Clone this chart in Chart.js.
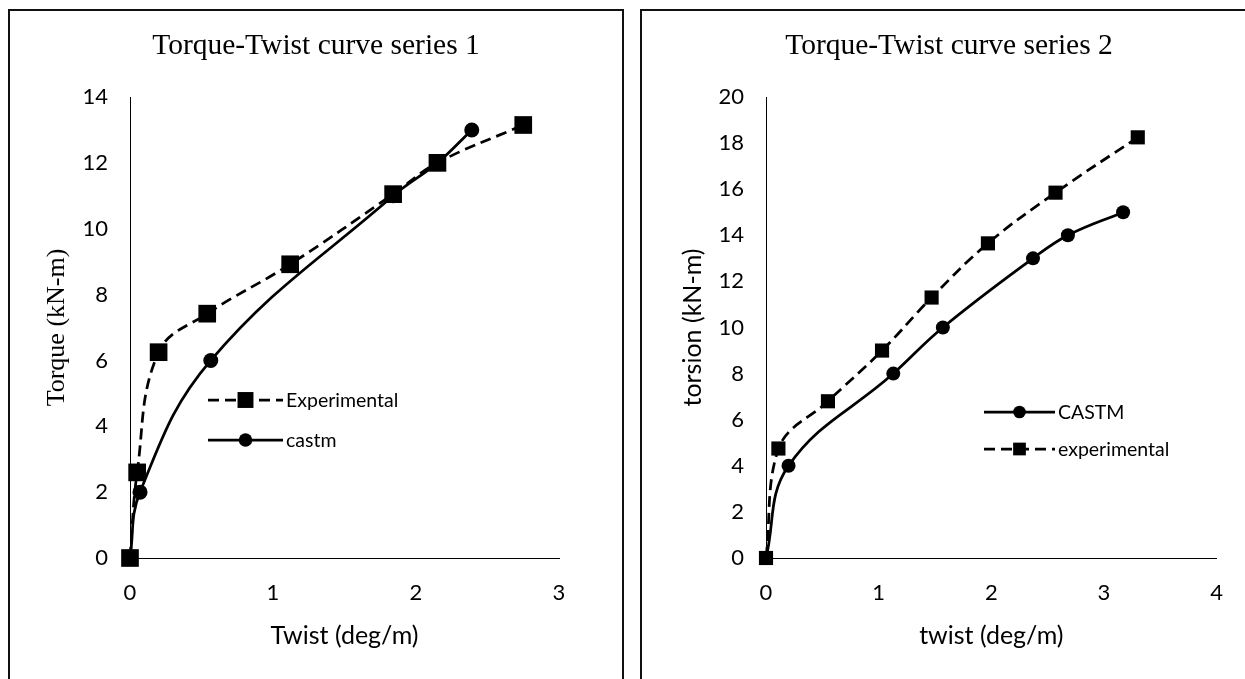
<!DOCTYPE html>
<html>
<head>
<meta charset="utf-8">
<script src="https://cdn.jsdelivr.net/npm/chart.js@4.4.1/dist/chart.umd.min.js"></script>
<style>
  body { margin: 0; background: #fff; width: 1245px; height: 679px; overflow: hidden; position: relative; }
  .box { position: absolute; top: 9px; height: 720px; border: 2px solid #111; box-sizing: border-box; }
  #box1 { left: 8px; width: 616px; }
  #box2 { left: 640px; width: 640px; }
  canvas { position: absolute; }
  #chart1 { left: 11px; top: 12px; }
  #chart2 { left: 643px; top: 12px; }
  .title { position: absolute; top: 26px; height: 36px; line-height: 36px; text-align: center;
           font-family: 'Liberation Serif', 'Times New Roman', serif; font-size: 29.5px; color: #000; }
  #title1 { left: 11px; width: 610px; }
  #title2 { left: 643px; width: 612px; }
</style>
</head>
<body>
<div class="box" id="box1"></div>
<div class="box" id="box2"></div>
<canvas id="chart1" width="610" height="660"></canvas>
<canvas id="chart2" width="602" height="660"></canvas>
<div class="title" id="title1">Torque-Twist curve series 1</div>
<div class="title" id="title2">Torque-Twist curve series 2</div>
<script>
// series 1
const twistExp1 = [0, 0.05, 0.2, 0.54, 1.12, 1.84, 2.15, 2.75];
const torqueExp1 = [0, 2.6, 6.25, 7.42, 8.92, 11.05, 12.0, 13.15];
const twistCastm1 = [0, 0.07, 0.565, 1.84, 2.15, 2.39];
const torqueCastm1 = [0, 2.0, 6.0, 11.0, 12.0, 13.0];

// series 2
const twistCastm2 = [0, 0.2, 1.13, 1.57, 2.37, 2.68, 3.17];
const torqueCastm2 = [0, 4.0, 8.0, 10.0, 13.0, 14.0, 15.0];
const twistExp2 = [0, 0.11, 0.55, 1.03, 1.47, 1.97, 2.57, 3.3];
const torqueExp2 = [0, 4.75, 6.8, 9.0, 11.3, 13.65, 15.85, 18.25];

// axis ticks
const xTicks1 = [0, 1, 2, 3];
const yTicks1 = [0, 2, 4, 6, 8, 10, 12, 14];
const xTicks2 = [0, 1, 2, 3, 4];
const yTicks2 = [0, 2, 4, 6, 8, 10, 12, 14, 16, 18, 20];

const sans = "Lato";
const serif = "'Liberation Serif', 'Times New Roman', serif";

function toPoints(xs, ys) {
    return xs.map((x, i) => ({ x: x, y: ys[i] }));
}

// legend with a line sample and marker, drawn inside the plot
const lineLegend = {
    id: "lineLegend",
    afterDraw(chart, args, opts) {
        const ctx = chart.ctx;
        opts.items.forEach((item, i) => {
            const ds = chart.data.datasets[item];
            const y = opts.y + i * opts.gap;
            const mid = opts.x + opts.len / 2;
            ctx.save();
            ctx.strokeStyle = "#000";
            ctx.fillStyle = "#000";
            ctx.lineWidth = ds.borderWidth;
            ctx.setLineDash(ds.borderDash || []);
            ctx.beginPath();
            ctx.moveTo(opts.x, y);
            ctx.lineTo(opts.x + opts.len, y);
            ctx.stroke();
            ctx.setLineDash([]);
            ctx.beginPath();
            if (ds.pointStyle === "rect") {
                const s = ds.pointRadius * Math.SQRT1_2 * 0.9;
                ctx.rect(mid - s, y - s, 2 * s, 2 * s);
            } else {
                ctx.arc(mid, y, ds.pointRadius * 0.9, 0, Math.PI * 2);
            }
            ctx.fill();
            ctx.font = "19.5px " + sans;
            ctx.textBaseline = "middle";
            ctx.textAlign = "left";
            ctx.fillText(ds.label, opts.x + opts.len + 3, y + 1);
            ctx.restore();
        });
    }
};

function makeChart(id, cfg) {
    const ctx = document.getElementById(id).getContext("2d");
    return new Chart(ctx, {
        type: "scatter",
        data: { datasets: cfg.datasets },
        options: {
            responsive: false,
            animation: false,
            layout: { padding: { left: 0, right: cfg.padRight, top: 85, bottom: 0 } },
            plugins: {
                legend: { display: false },
                tooltip: { enabled: false },
                title: { display: false },
                lineLegend: cfg.legend
            },
            scales: {
                x: {
                    type: "linear",
                    min: cfg.xTicks[0],
                    max: cfg.xTicks[cfg.xTicks.length - 1],
                    afterBuildTicks: s => { s.ticks = cfg.xTicks.map(v => ({ value: v })); },
                    afterFit: s => { s.height = 114; },
                    grid: { display: false, drawTicks: false },
                    border: { display: true, color: "#000", width: 1 },
                    ticks: { color: "#000", padding: 22, font: { family: sans, size: 22 } },
                    title: {
                        display: true,
                        text: cfg.xTitle,
                        color: "#000",
                        font: { family: sans, size: 25 },
                        padding: { top: 0, bottom: 21 }
                    }
                },
                y: {
                    type: "linear",
                    min: cfg.yTicks[0],
                    max: cfg.yTicks[cfg.yTicks.length - 1],
                    afterBuildTicks: s => { s.ticks = cfg.yTicks.map(v => ({ value: v })); },
                    afterFit: s => { s.width = cfg.yWidth; },
                    grid: { display: false, drawTicks: false },
                    border: { display: true, color: "#000", width: 1 },
                    ticks: { color: "#000", padding: 22, font: { family: sans, size: 22 } },
                    title: {
                        display: true,
                        text: cfg.yTitle,
                        color: "#000",
                        font: cfg.yTitleFont,
                        padding: { top: cfg.yTitlePad, bottom: 0 }
                    }
                }
            }
        },
        plugins: [lineLegend]
    });
}

function series(label, xs, ys, dashed, style, radius) {
    return {
        label: label,
        data: toPoints(xs, ys),
        showLine: true,
        tension: 0.4,
        borderColor: "#000",
        backgroundColor: "#000",
        borderWidth: 2.75,
        borderDash: dashed ? [11, 6] : [],
        pointStyle: style,
        pointRadius: radius,
        pointBorderWidth: 0,
        pointBackgroundColor: "#000",
        clip: false
    };
}

makeChart("chart1", {
    xTitle: "Twist (deg/m)",
    yTitle: "Torque (kN-m)",
    yTitleFont: { family: serif, size: 26 },
    yTitlePad: 31,
    yWidth: 119,
    padRight: 62,
    xTicks: xTicks1,
    yTicks: yTicks1,
    datasets: [
        series("Experimental", twistExp1, torqueExp1, true, "rect", 12.5),
        series("castm", twistCastm1, torqueCastm1, false, "circle", 7.5)
    ],
    legend: { items: [0, 1], x: 197, y: 388, gap: 40, len: 75 }
});

makeChart("chart2", {
    xTitle: "twist (deg/m)",
    yTitle: "torsion (kN-m)",
    yTitleFont: { family: sans, size: 25 },
    yTitlePad: 35,
    yWidth: 123,
    padRight: 17,
    xTicks: xTicks2,
    yTicks: yTicks2,
    datasets: [
        series("CASTM", twistCastm2, torqueCastm2, false, "circle", 7),
        series("experimental", twistExp2, torqueExp2, true, "rect", 10)
    ],
    legend: { items: [0, 1], x: 341, y: 400, gap: 37, len: 71 }
});
</script>
</body>
</html>
